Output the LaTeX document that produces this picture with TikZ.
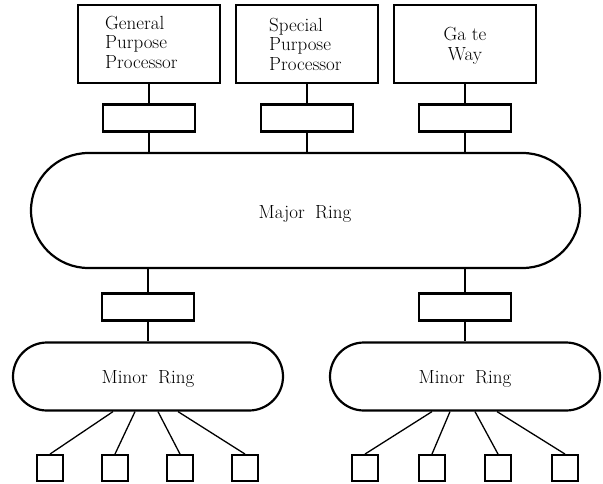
\documentclass[tikz,border=0pt]{standalone}
\usepackage{fontspec}
\usetikzlibrary{shapes.misc}
\begin{document}
\begin{tikzpicture}[x=1pt,y=-1pt,
  box/.style={draw, line width=2.2pt, minimum width=142pt, minimum height=78pt, inner sep=0pt},
  port/.style={draw, line width=2.2pt, minimum width=92pt, minimum height=27pt, inner sep=0pt},
  ring/.style={draw, rounded rectangle, line width=2.2pt, inner sep=0pt},
  station/.style={draw, line width=1.9pt, minimum size=26pt, inner sep=0pt},
  lbl/.style={inner sep=0pt, font=\fontsize{19}{19.5}\selectfont\addfontfeatures{FakeBold=0.6}},
  link/.style={line width=1.3pt}]
\useasboundingbox (0,0) rectangle (603,483);

% top boxes
\node[box] (gpp) at (149,44) {};
\node[box] (spp) at (307,44) {};
\node[box] (gw)  at (465,44) {};
\node[lbl, align=left, anchor=base west] (gpptxt) at (105,68) {General\\Purpose\\Processor};
\node[lbl, align=left, anchor=base west] (spptxt) at (269,70) {Special\\Purpose\\Processor};
\node[lbl, align=center, anchor=base] (gwtxt) at (465,60) {Ga te\\Way};

% interface boxes (top)
\node[port] (p1) at (149,118) {};
\node[port] (p2) at (307,118) {};
\node[port] (p3) at (465,118) {};

% major ring
\node[ring, minimum width=549pt, minimum height=115pt] (major) at (305.5,210.5) {};
\node[lbl, anchor=base] (majortxt) at (305,218) {Major\hspace{0.55em}Ring};

% interface boxes (lower)
\node[port] (q1) at (148,307) {};
\node[port] (q2) at (465,307) {};

% minor rings
\node[ring, minimum width=270pt, minimum height=68pt] (m1) at (148,376.5) {};
\node[ring, minimum width=270pt, minimum height=68pt] (m2) at (465,376.5) {};
\node[lbl, anchor=base] (m1txt) at (148,383) {Minor\hspace{0.55em}Ring};
\node[lbl, anchor=base] (m2txt) at (465,383) {Minor\hspace{0.55em}Ring};

% stations
\node[station] (s1) at (50,468) {};
\node[station] (s2) at (115,468) {};
\node[station] (s3) at (180,468) {};
\node[station] (s4) at (245,468) {};
\node[station] (s5) at (365,468) {};
\node[station] (s6) at (432,468) {};
\node[station] (s7) at (498,468) {};
\node[station] (s8) at (565,468) {};

% connectors
\draw[link] (gpp.south) -- (p1.north);
\draw[link] (spp.south) -- (p2.north);
\draw[link] (gw.south) -- (p3.north);
\draw[link] (p1.south) -- (p1.south |- major.north);
\draw[link] (p2.south) -- (p2.south |- major.north);
\draw[link] (p3.south) -- (p3.south |- major.north);
\draw[link] (q1.north |- major.south) -- (q1.north);
\draw[link] (q2.north |- major.south) -- (q2.north);
\draw[link] (q1.south) -- (m1.north);
\draw[link] (q2.south) -- (m2.north);

\draw[link] ([xshift=-35pt]m1.south) -- (s1.north);
\draw[link] ([xshift=-13pt]m1.south) -- (s2.north);
\draw[link] ([xshift=10pt]m1.south) -- (s3.north);
\draw[link] ([xshift=30pt]m1.south) -- (s4.north);
\draw[link] ([xshift=-33pt]m2.south) -- (s5.north);
\draw[link] ([xshift=-15pt]m2.south) -- (s6.north);
\draw[link] ([xshift=10pt]m2.south) -- (s7.north);
\draw[link] ([xshift=32pt]m2.south) -- (s8.north);
\end{tikzpicture}
\end{document}
